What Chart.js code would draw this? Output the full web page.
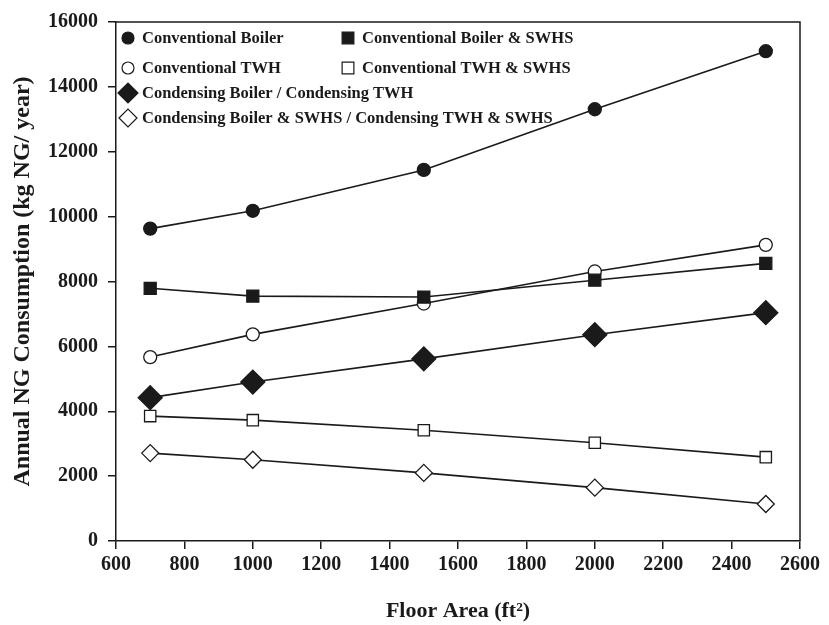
<!DOCTYPE html>
<html>
<head>
<meta charset="utf-8">
<script src="https://cdn.jsdelivr.net/npm/chart.js@4/dist/chart.umd.min.js"></script>
<style>
  body { margin: 0; background: #fff; }
  #wrap { width: 829px; height: 625px; }
</style>
</head>
<body>
<div id="wrap"><canvas id="myChart"></canvas></div>
<script>
// floor areas (ft2)
const floorAreas = [700, 1000, 1500, 2000, 2500];

// annual NG consumption, kg NG / year
const convBoiler = [9630, 10180, 11440, 13310, 15100];
const convBoilerSwhs = [7790, 7550, 7520, 8040, 8560];
const convTwh = [5670, 6370, 7320, 8310, 9130];
const convTwhSwhs = [3850, 3725, 3415, 3030, 2585];
const condensing = [4420, 4900, 5615, 6360, 7040];
const condensingSwhs = [2710, 2505, 2100, 1645, 1140];

const seriesLabels = [
  "Conventional Boiler",
  "Conventional Boiler & SWHS",
  "Conventional TWH",
  "Conventional TWH & SWHS",
  "Condensing Boiler / Condensing TWH",
  "Condensing Boiler & SWHS / Condensing TWH & SWHS"
];

const xTitle = "Floor Area (ft\u00B2)";
const yTitle = "Annual NG Consumption (kg NG/ year)";

const ink = "#1a1a1a";
const serif = "'Liberation Serif', 'Times New Roman', serif";

function toPoints(vals) {
  return floorAreas.map((x, i) => ({ x: x, y: vals[i] }));
}

function makeSet(label, vals, style, radius, filled) {
  return {
    label: label,
    data: toPoints(vals),
    borderColor: ink,
    borderWidth: 1.6,
    pointStyle: style,
    pointRadius: radius,
    pointHoverRadius: radius,
    pointBackgroundColor: filled ? ink : "#fff",
    pointBorderColor: ink,
    pointBorderWidth: 1.3,
    tension: 0,
    fill: false
  };
}

const datasets = [
  makeSet(seriesLabels[0], convBoiler, "circle", 6.5, true),
  makeSet(seriesLabels[1], convBoilerSwhs, "rect", 8.5, true),
  makeSet(seriesLabels[2], convTwh, "circle", 6.5, false),
  makeSet(seriesLabels[3], convTwhSwhs, "rect", 8, false),
  makeSet(seriesLabels[4], condensing, "rectRot", 12, true),
  makeSet(seriesLabels[5], condensingSwhs, "rectRot", 8.5, false)
];

// legend layout: [dataset index, column, row]
const legendSlots = [[0, 0, 0], [1, 1, 0], [2, 0, 1], [3, 1, 1], [4, 0, 2], [5, 0, 3]];
const legendRowsY = [16, 46, 71, 96];
const legendColsX = [12, 232];
const legendMarkerR = [6, 8.3, 6, 8.3, 10, 9];

const boxAndLegend = {
  id: "boxAndLegend",
  afterDraw(chart) {
    const ctx = chart.ctx;
    const a = chart.chartArea;
    ctx.save();
    ctx.strokeStyle = ink;
    ctx.lineWidth = 1.5;
    ctx.beginPath();
    ctx.moveTo(a.left, a.top);
    ctx.lineTo(a.right, a.top);
    ctx.lineTo(a.right, a.bottom);
    ctx.stroke();

    ctx.font = "bold 16.5px " + serif;
    ctx.textBaseline = "middle";
    legendSlots.forEach(([idx, col, row]) => {
      const ds = chart.data.datasets[idx];
      const mx = a.left + legendColsX[col];
      const my = a.top + legendRowsY[row];
      ctx.fillStyle = ds.pointBackgroundColor;
      ctx.strokeStyle = ink;
      ctx.lineWidth = 1.2;
      Chart.helpers.drawPoint(ctx, {
        pointStyle: ds.pointStyle,
        radius: legendMarkerR[idx],
        rotation: 0,
        borderWidth: 1.2
      }, mx, my);
      ctx.fillStyle = ink;
      ctx.fillText(ds.label, mx + 14, my + 1);
    });
    ctx.restore();
  }
};

const plainTick = (v) => String(v);

const config = {
  type: "line",
  data: { datasets },
  options: {
    responsive: true,
    maintainAspectRatio: false,
    animation: false,
    layout: { padding: { top: 13, right: 29, left: 0, bottom: 0 } },
    plugins: {
      legend: { display: false },
      tooltip: { enabled: false }
    },
    scales: {
      x: {
        type: "linear",
        min: 600,
        max: 2600,
        ticks: {
          stepSize: 200,
          color: ink,
          font: { family: serif, size: 20, weight: "bold" },
          padding: 4,
          callback: plainTick
        },
        grid: { drawOnChartArea: false, tickLength: 8, color: ink, lineWidth: 1.5 },
        border: { color: ink, width: 1.5 },
        title: {
          display: true,
          text: xTitle,
          color: ink,
          font: { family: serif, size: 22, weight: "bold" },
          padding: { top: 12, bottom: 0 }
        },
        afterFit(scale) { scale.height = 84; }
      },
      y: {
        min: 0,
        max: 16000,
        ticks: {
          stepSize: 2000,
          color: ink,
          font: { family: serif, size: 20, weight: "bold" },
          padding: 10,
          callback: plainTick
        },
        grid: { drawOnChartArea: false, tickLength: 8, color: ink, lineWidth: 1.5 },
        border: { color: ink, width: 1.5 },
        title: {
          display: true,
          text: yTitle,
          color: ink,
          font: { family: serif, size: 24, weight: "bold" },
          padding: { top: 8, bottom: 4 }
        },
        afterFit(scale) { scale.width = 116; }
      }
    }
  },
  plugins: [boxAndLegend]
};

new Chart(document.getElementById("myChart"), config);
</script>
</body>
</html>
